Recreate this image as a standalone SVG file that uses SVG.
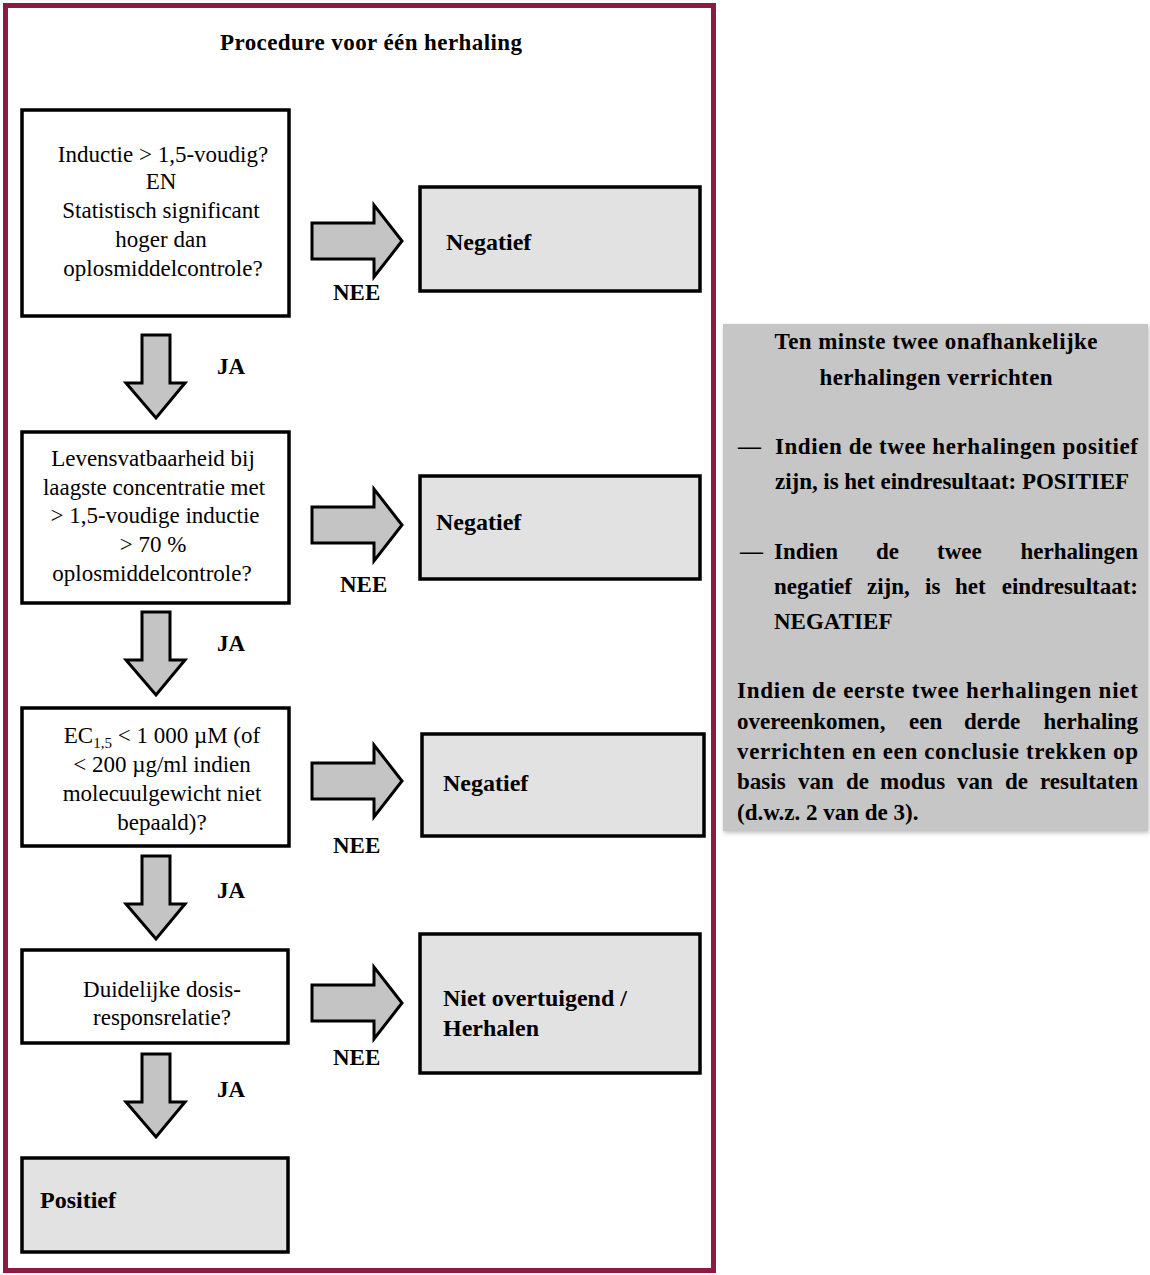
<svg xmlns="http://www.w3.org/2000/svg" width="1150" height="1275" viewBox="0 0 1150 1275">
<style>
.t{font-family:"Liberation Serif","Times New Roman",serif;font-size:23px;fill:#000}
.b{font-weight:bold}
.c{text-anchor:middle}
.e{text-anchor:end}
.r{font-size:24px}
.box{fill:#fff;stroke:#000;stroke-width:3.5}
.res{fill:#e2e2e2;stroke:#000;stroke-width:3.5}
.arr{fill:#c4c4c4;stroke:#000;stroke-width:3;stroke-linejoin:miter}
</style>
<defs>
<path id="ra" d="M0,-18 H62 V-36 L90,0 L62,36 V18 H0 Z"/>
<path id="da" d="M0,0 H28 V48 H43 L14,83 L-16,48 H0 Z"/>
<filter id="sh" x="-5%" y="-5%" width="110%" height="110%"><feDropShadow dx="1" dy="2" stdDeviation="2" flood-color="#000" flood-opacity="0.25"/></filter>
</defs>
<rect x="0" y="0" width="1150" height="1275" fill="#fff"/>
<g id="frame">
<rect x="5.5" y="5.5" width="708" height="1265" fill="#fff" stroke="#8c1b42" stroke-width="5"/>
<text class="t b c" x="371" y="50" textLength="302">Procedure voor één herhaling</text>
</g>
<g id="q1">
<rect class="box" x="22" y="110" width="267" height="206"/>
<text class="t c" x="163" y="162">Inductie &gt; 1,5-voudig?</text>
<text class="t c" x="161" y="189">EN</text>
<text class="t c" x="161" y="218">Statistisch significant</text>
<text class="t c" x="161" y="247">hoger dan</text>
<text class="t c" x="163" y="276">oplosmiddelcontrole?</text>
</g>
<g id="n1">
<rect class="res" x="420" y="187" width="280" height="104"/>
<text class="t b r" x="446" y="250">Negatief</text>
</g>
<g id="q2">
<rect class="box" x="22" y="432" width="267" height="171"/>
<text class="t c" x="153" y="466">Levensvatbaarheid bij</text>
<text class="t c" x="154" y="495">laagste concentratie met</text>
<text class="t c" x="155" y="523">&gt; 1,5-voudige inductie</text>
<text class="t c" x="153" y="552">&gt; 70 %</text>
<text class="t c" x="152" y="581">oplosmiddelcontrole?</text>
</g>
<g id="n2">
<rect class="res" x="420" y="476" width="280" height="103"/>
<text class="t b r" x="436" y="530">Negatief</text>
</g>
<g id="q3">
<rect class="box" x="22" y="708" width="267" height="138"/>
<text class="t c" x="162" y="743">EC<tspan font-size="15" dy="5">1,5</tspan><tspan dy="-5"> &lt; 1 000 µM (of</tspan></text>
<text class="t c" x="162" y="772">&lt; 200 µg/ml indien</text>
<text class="t c" x="162" y="801">molecuulgewicht niet</text>
<text class="t c" x="162" y="830">bepaald)?</text>
</g>
<g id="n3">
<rect class="res" x="422" y="734" width="282" height="102"/>
<text class="t b r" x="443" y="791">Negatief</text>
</g>
<g id="q4">
<rect class="box" x="22" y="950" width="266" height="93"/>
<text class="t c" x="162" y="997">Duidelijke dosis-</text>
<text class="t c" x="162" y="1025">responsrelatie?</text>
</g>
<g id="n4">
<rect class="res" x="420" y="934" width="280" height="139"/>
<text class="t b r" x="443" y="1006">Niet overtuigend /</text>
<text class="t b r" x="443" y="1036">Herhalen</text>
</g>
<g id="pos">
<rect class="res" x="22" y="1158" width="266" height="94"/>
<text class="t b r" x="40" y="1208">Positief</text>
</g>
<g id="connectors">
<use href="#ra" class="arr" x="312" y="241"/>
<use href="#ra" class="arr" x="312" y="525"/>
<use href="#ra" class="arr" x="312" y="781"/>
<use href="#ra" class="arr" x="312" y="1003"/>
<use href="#da" class="arr" x="142" y="335"/>
<use href="#da" class="arr" x="142" y="612"/>
<use href="#da" class="arr" x="142" y="856"/>
<use href="#da" class="arr" x="142" y="1054"/>
<text class="t b" x="333" y="300" font-size="21">NEE</text>
<text class="t b" x="340" y="592" font-size="21">NEE</text>
<text class="t b" x="333" y="853" font-size="21">NEE</text>
<text class="t b" x="333" y="1065" font-size="21">NEE</text>
<text class="t b" x="217" y="374" font-size="21">JA</text>
<text class="t b" x="217" y="651" font-size="21">JA</text>
<text class="t b" x="217" y="898" font-size="21">JA</text>
<text class="t b" x="217" y="1097" font-size="21">JA</text>
</g>
<g id="summary">
<rect x="723" y="324" width="425" height="507" fill="#c6c6c6" filter="url(#sh)"/>
<text class="t b c" x="936" y="349" textLength="323">Ten minste twee onafhankelijke</text>
<text class="t b c" x="936" y="385" textLength="233">herhalingen verrichten</text>
<text class="t b" x="738" y="454">—</text>
<text class="t b" x="775" y="454" textLength="363">Indien de twee herhalingen positief</text>
<text class="t b" x="775" y="489" textLength="354">zijn, is het eindresultaat: POSITIEF</text>
<text class="t b" x="740" y="559">—</text>
<text class="t b" y="559"><tspan x="774">Indien</tspan><tspan x="876">de</tspan><tspan x="937">twee</tspan></text>
<text class="t b e" x="1138" y="559">herhalingen</text>
<text class="t b" y="594"><tspan x="774">negatief</tspan><tspan x="867">zijn,</tspan><tspan x="925">is</tspan><tspan x="955">het</tspan></text>
<text class="t b e" x="1138" y="594">eindresultaat:</text>
<text class="t b" x="774" y="629">NEGATIEF</text>
<text class="t b" x="737" y="698" textLength="401">Indien de eerste twee herhalingen niet</text>
<text class="t b" y="729"><tspan x="737">overeenkomen,</tspan><tspan x="909">een</tspan><tspan x="964">derde</tspan></text>
<text class="t b e" x="1138" y="729">herhaling</text>
<text class="t b" x="737" y="759" textLength="401">verrichten en een conclusie trekken op</text>
<text class="t b" y="789"><tspan x="737">basis</tspan><tspan x="798">van</tspan><tspan x="846">de</tspan><tspan x="880">modus</tspan><tspan x="957">van</tspan><tspan x="1005">de</tspan></text>
<text class="t b e" x="1138" y="789">resultaten</text>
<text class="t b" x="737" y="820">(d.w.z. 2 van de 3).</text>
</g>
</svg>
